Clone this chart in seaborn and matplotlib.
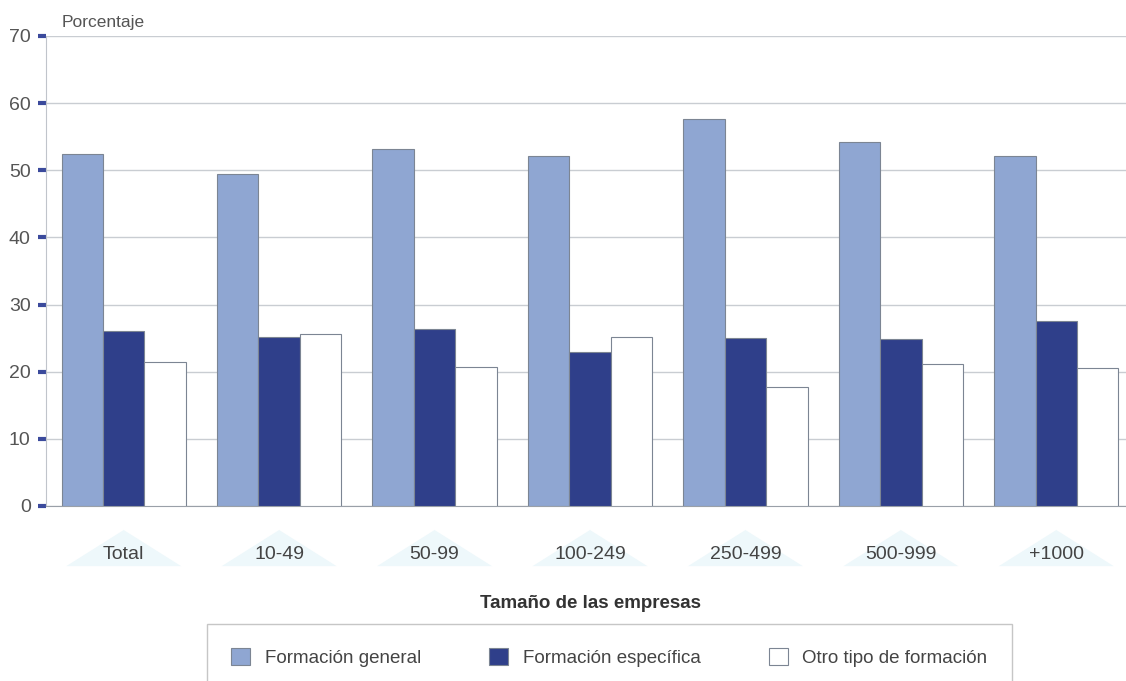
import seaborn as sns
import matplotlib.pyplot as plt
import matplotlib.transforms as mtransforms
import pandas as pd

# Datos
categorias = ['Total', '10-49', '50-99', '100-249', '250-499', '500-999', '+1000']
series = ['Formación general', 'Formación específica', 'Otro tipo de formación']
formacion_general = [52.5, 49.4, 53.1, 52.1, 57.6, 54.2, 52.2]
formacion_especifica = [26.1, 25.2, 26.3, 23.0, 25.0, 24.8, 27.6]
otro_tipo = [21.5, 25.6, 20.7, 25.1, 17.7, 21.2, 20.6]
colores = ['#8fa6d2', '#2f3f8a', '#ffffff']

sns.set_style('white')
plt.rcParams['font.family'] = ['Liberation Sans', 'DejaVu Sans']

rows = []
for serie, vals in zip(series, [formacion_general, formacion_especifica, otro_tipo]):
    for cat, v in zip(categorias, vals):
        rows.append({'Tamaño': cat, 'Porcentaje': v, 'Tipo': serie})
df = pd.DataFrame(rows)

fig = plt.figure(figsize=(11.26, 6.81), dpi=100)
W, H = 1126, 681
ax = fig.add_axes([46 / W, 1 - 506 / H, 1088 / W, 470 / H])

sns.barplot(data=df, x='Tamaño', y='Porcentaje', hue='Tipo', hue_order=series,
            order=categorias, palette=colores, width=0.8, edgecolor='#7c8593',
            linewidth=0.8, saturation=1, ax=ax, zorder=3)

ax.set_ylim(0, 70)
ax.set_xlim(-0.5, len(categorias) - 0.5)
ax.set_yticks(range(0, 71, 10))
ax.yaxis.grid(True, color='#c9cdd2', linewidth=1, zorder=0)
ax.set_axisbelow(True)

for s in ['top', 'right']:
    ax.spines[s].set_visible(False)
ax.spines['left'].set_color('#c0c4cb')
ax.spines['bottom'].set_color('#9aa0a8')

ax.tick_params(axis='y', left=True, direction='out', length=6, width=3,
               color='#3b4a9c', labelcolor='#555555', labelsize=14, pad=5)
ax.tick_params(axis='x', bottom=False, length=0, labelcolor='#444444',
               labelsize=14, pad=29)
ax.set_ylabel('')
ax.set_xlabel('Tamaño de las empresas', fontsize=13.5, fontweight='bold',
              color='#333333', labelpad=23)

# Triángulos decorativos bajo las etiquetas
trans = mtransforms.blended_transform_factory(ax.transData, ax.transAxes)
for i in range(len(categorias)):
    ax.fill([i - 0.37, i, i + 0.37], [-0.128, -0.051, -0.128], color='#eef8fb',
            transform=trans, clip_on=False, zorder=0, lw=0)

fig.text(62 / W, 1 - 27 / H, 'Porcentaje', fontsize=12.5, color='#555555')

handles, labels = ax.get_legend_handles_labels()
if ax.get_legend() is not None:
    ax.get_legend().remove()
leg = fig.legend(handles, labels, loc='upper left', ncol=3, mode='expand',
                 bbox_to_anchor=(207 / W, 0, 805 / W, 1 - 624 / H),
                 fontsize=13.5, frameon=True, fancybox=False, borderpad=1.3,
                 handlelength=1.0, handleheight=1.0, handletextpad=0.8,
                 borderaxespad=0)
leg.get_frame().set_edgecolor('#b8b8b8')
leg.get_frame().set_linewidth(1)
for t in leg.get_texts():
    t.set_color('#444444')

plt.savefig('out.png', dpi=100)
